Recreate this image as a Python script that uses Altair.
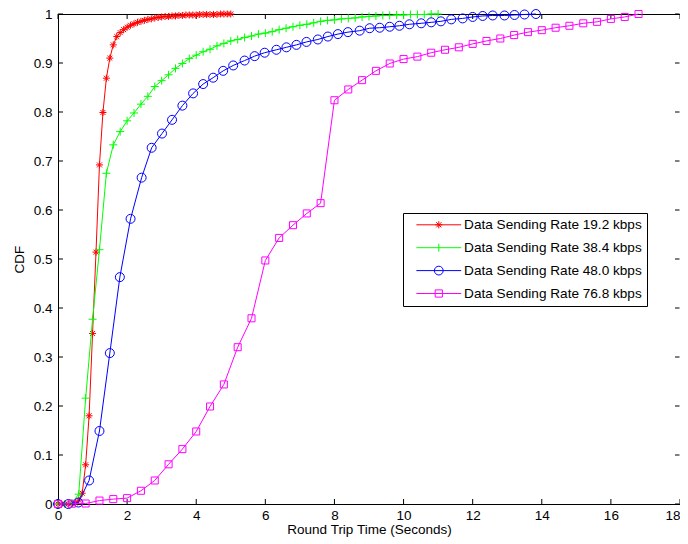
import altair as alt
import pandas as pd

SERIES = ["Data Sending Rate 19.2 kbps", "Data Sending Rate 38.4 kbps",
          "Data Sending Rate 48.0 kbps", "Data Sending Rate 76.8 kbps"]
COLORS = ["#ff0000", "#00ff00", "#0000ff", "#ff00ff"]

X_TICKS = [0, 2, 4, 6, 8, 10, 12, 14, 16, 18]
Y_TICKS = [0, 0.1, 0.2, 0.3, 0.4, 0.5, 0.6, 0.7, 0.8, 0.9, 1.0]

# 19.2 kbps (red, asterisk)
r_x = [0.0, 0.1, 0.2, 0.3, 0.4, 0.5, 0.6, 0.7, 0.8, 0.9, 1.0, 1.1, 1.2, 1.3, 1.4, 1.5,
       1.6, 1.7, 1.8, 1.9, 2.0, 2.1, 2.2, 2.3, 2.4, 2.5, 2.6, 2.7, 2.8, 2.9, 3.0, 3.1,
       3.2, 3.3, 3.4, 3.5, 3.6, 3.7, 3.8, 3.9, 4.0, 4.1, 4.2, 4.3, 4.4, 4.5, 4.6, 4.7,
       4.8, 4.9, 5.0]
r_y = [0.0, 0.0, 0.0, 0.0, 0.001, 0.002, 0.008, 0.022, 0.080, 0.180, 0.348, 0.514,
       0.692, 0.799, 0.869, 0.910, 0.937, 0.954, 0.962, 0.968, 0.973, 0.977, 0.980,
       0.983, 0.985, 0.987, 0.989, 0.990, 0.992, 0.993, 0.994, 0.995, 0.995, 0.996,
       0.996, 0.997, 0.997, 0.998, 0.998, 0.998, 0.998, 0.999, 0.999, 0.999, 0.999,
       0.999, 0.999, 1.0, 1.0, 1.0, 1.0]

# 38.4 kbps (green, plus)
g_x = [0.0, 0.2, 0.4, 0.6, 0.8, 1.0, 1.2, 1.4, 1.6, 1.8, 2.0, 2.2, 2.4, 2.6, 2.8, 3.0,
       3.2, 3.4, 3.6, 3.8, 4.0, 4.2, 4.4, 4.6, 4.8, 5.0, 5.2, 5.4, 5.6, 5.8, 6.0, 6.2,
       6.4, 6.6, 6.8, 7.0, 7.2, 7.4, 7.6, 7.8, 8.0, 8.2, 8.4, 8.6, 8.8, 9.0, 9.2, 9.4,
       9.6, 9.8, 10.0, 10.2, 10.4, 10.6, 10.8, 11.0]
g_y = [0.0, 0.0, 0.002, 0.020, 0.216, 0.377, 0.519, 0.675, 0.733, 0.760, 0.782, 0.798,
       0.816, 0.832, 0.852, 0.864, 0.876, 0.889, 0.899, 0.909, 0.916, 0.923, 0.928,
       0.935, 0.940, 0.945, 0.948, 0.952, 0.955, 0.959, 0.961, 0.964, 0.968, 0.971,
       0.974, 0.977, 0.979, 0.982, 0.985, 0.987, 0.988, 0.990, 0.991, 0.992, 0.994,
       0.995, 0.996, 0.997, 0.997, 0.998, 0.998, 0.999, 0.999, 0.999, 1.0, 1.0]

# 48.0 kbps (blue, circle)
b_x = [0.0, 0.3, 0.59, 0.9, 1.2, 1.5, 1.79, 2.1, 2.42, 2.71, 3.01, 3.3, 3.6, 3.91, 4.2,
       4.49, 4.78, 5.07, 5.4, 5.69, 5.98, 6.32, 6.61, 6.9, 7.19, 7.52, 7.81, 8.1, 8.39,
       8.73, 9.02, 9.31, 9.6, 9.88, 10.17, 10.51, 10.8, 11.08, 11.38, 11.71, 12.0,
       12.29, 12.58, 12.92, 13.21, 13.5, 13.83]
b_y = [0.0, 0.0, 0.003, 0.048, 0.149, 0.308, 0.463, 0.582, 0.666, 0.727, 0.756, 0.784,
       0.813, 0.838, 0.857, 0.870, 0.884, 0.895, 0.905, 0.914, 0.921, 0.927, 0.932,
       0.937, 0.943, 0.948, 0.954, 0.959, 0.963, 0.966, 0.971, 0.972, 0.974, 0.976,
       0.979, 0.981, 0.983, 0.985, 0.989, 0.991, 0.994, 0.996, 0.997, 0.997, 0.998,
       0.999, 1.0]

# 76.8 kbps (magenta, square)
m_x = [0.0, 0.4, 0.8, 1.2, 1.6, 2.0, 2.4, 2.8, 3.2, 3.6, 4.0, 4.4, 4.8, 5.2, 5.6, 6.0,
       6.4, 6.8, 7.2, 7.6, 8.0, 8.4, 8.8, 9.2, 9.6, 10.0, 10.4, 10.8, 11.2, 11.6, 12.0,
       12.4, 12.8, 13.2, 13.6, 14.0, 14.4, 14.8, 15.2, 15.6, 16.0, 16.4, 16.8]
m_y = [0.0, 0.0005, 0.001, 0.007, 0.010, 0.012, 0.027, 0.048, 0.081, 0.112, 0.148,
       0.199, 0.244, 0.320, 0.379, 0.497, 0.543, 0.569, 0.593, 0.614, 0.824, 0.846,
       0.865, 0.884, 0.899, 0.908, 0.913, 0.921, 0.927, 0.932, 0.939, 0.945, 0.950,
       0.957, 0.963, 0.967, 0.972, 0.976, 0.981, 0.984, 0.990, 0.994, 1.0]

rows = []
for name, xs, ys in zip(SERIES, [r_x, g_x, b_x, m_x], [r_y, g_y, b_y, m_y]):
    for i, (xv, yv) in enumerate(zip(xs, ys)):
        rows.append({"series": name, "x": xv, "y": yv, "i": i})
df = pd.DataFrame(rows)

# marker shapes (plot)
STAR = "M-0.78,0L0.78,0M0,-0.78L0,0.78M-0.55,-0.55L0.55,0.55M-0.55,0.55L0.55,-0.55"
PLUS = "M-0.89,0L0.89,0M0,-0.89L0,0.89"
CIRC = "M-1,0A1,1,0,1,0,1,0A1,1,0,1,0,-1,0Z"
SQR = "M-0.78,-0.78L0.78,-0.78L0.78,0.78L-0.78,0.78Z"
MARKERS = [STAR, PLUS, CIRC, SQR]

# legend shapes (line + marker)
LINE = "M-5.6,0L5.6,0"
L_STAR = LINE + "M-0.9,0L0.9,0M0,-0.9L0,0.9M-0.64,-0.64L0.64,0.64M-0.64,0.64L0.64,-0.64"
L_PLUS = LINE + "M0,-1L0,1"
L_CIRC = LINE + "M-1.1,0A1.1,1.1,0,1,0,1.1,0A1.1,1.1,0,1,0,-1.1,0Z"
L_SQR = LINE + "M-0.9,-0.9L0.9,-0.9L0.9,0.9L-0.9,0.9Z"

W, H = 622, 490
FONT = "Liberation Sans"

x_scale = alt.Scale(domain=[0, 18], nice=False)
y_scale = alt.Scale(domain=[0, 1], nice=False)
color_scale = alt.Scale(domain=SERIES, range=COLORS)

xt = pd.DataFrame({"x": X_TICKS})
yt = pd.DataFrame({"y": Y_TICKS})

tick_b = alt.Chart(xt).mark_rule(color="black", strokeWidth=1).encode(
    x=alt.X("x:Q", scale=x_scale,
            axis=alt.Axis(values=X_TICKS, title="Round Trip Time (Seconds)",
                          ticks=False, grid=False, labelPadding=4, titlePadding=1,
                          labelAlign={"condition": {"test": "datum.value == 18", "value": "right"},
                                      "value": "center"})),
    y=alt.value(H), y2=alt.value(H - 5))
tick_t = alt.Chart(xt).mark_rule(color="black", strokeWidth=1).encode(
    x=alt.X("x:Q", scale=x_scale), y=alt.value(0), y2=alt.value(5))
tick_l = alt.Chart(yt).mark_rule(color="black", strokeWidth=1).encode(
    y=alt.Y("y:Q", scale=y_scale,
            axis=alt.Axis(values=Y_TICKS, title="CDF", format="~g",
                          ticks=False, grid=False, labelPadding=6, titlePadding=7)),
    x=alt.value(0), x2=alt.value(5))
tick_r = alt.Chart(yt).mark_rule(color="black", strokeWidth=1).encode(
    y=alt.Y("y:Q", scale=y_scale), x=alt.value(W - 0.5), x2=alt.value(W - 5))

series_layers = []
for name, col, shp in zip(SERIES, COLORS, MARKERS):
    base = alt.Chart(df).transform_filter(alt.datum.series == name)
    series_layers.append(
        base.mark_line(strokeWidth=1, color=col).encode(
            x=alt.X("x:Q", scale=x_scale), y=alt.Y("y:Q", scale=y_scale), order="i:Q"))
    series_layers.append(
        base.mark_point(filled=False, strokeWidth=1, opacity=1, size=81, shape=shp, color=col)
        .encode(x=alt.X("x:Q", scale=x_scale), y=alt.Y("y:Q", scale=y_scale)))

leg = alt.Legend(
    title=None, orient="none", legendX=345, legendY=199,
    padding=5, fillColor="white", strokeColor="black",
    labelFont=FONT, labelFontSize=13.6, labelColor="black",
    labelLimit=300, symbolSize=64, symbolStrokeWidth=1,
    symbolOpacity=1, symbolOffset=24, labelOffset=18.5, rowPadding=7.9)

leg_df = pd.DataFrame({"series": SERIES})
legend_layer = alt.Chart(leg_df).mark_point(filled=False, opacity=0, strokeWidth=1).encode(
    x=alt.value(-100), y=alt.value(-100),
    color=alt.Color("series:N", scale=color_scale, title=None, legend=leg),
    shape=alt.Shape("series:N", title=None,
                    scale=alt.Scale(domain=SERIES, range=[L_STAR, L_PLUS, L_CIRC, L_SQR]),
                    legend=leg),
)

chart = alt.layer(tick_b, tick_t, tick_l, tick_r, *series_layers, legend_layer).properties(
    width=W, height=H, autosize="none", background="white",
    padding={"left": 50, "top": 6, "right": 0, "bottom": 36},
).configure_view(stroke="black", strokeWidth=1).configure_axis(
    labelFont=FONT, labelFontSize=13.5, labelColor="black",
    titleFont=FONT, titleFontSize=13.5, titleFontWeight="normal", titleColor="black",
    domainColor="black", domainWidth=1,
)

chart.save("out.html", embed_options={"renderer": "svg", "actions": False})
